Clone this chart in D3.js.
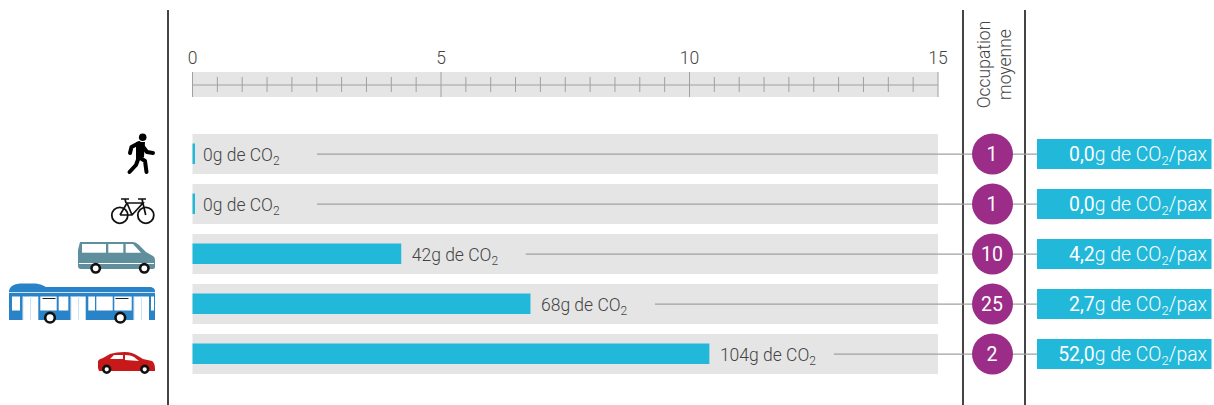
<!DOCTYPE html>
<html>
<head>
<meta charset="utf-8">
<script src="https://cdnjs.cloudflare.com/ajax/libs/d3/7.8.5/d3.min.js"></script>
<style>
  html, body { margin: 0; padding: 0; background: #fff; }
  svg { display: block; font-family: Roboto, sans-serif; font-weight: 300; }
</style>
</head>
<body>
<svg id="chart" width="1214" height="405"></svg>
<script>
const modes = ["marche", "velo", "van", "bus", "voiture"];
const emissions = [0, 0, 42, 68, 104];
const occupancy = [1, 1, 10, 25, 2];
const perPax = ["0,0", "0,0", "4,2", "2,7", "52,0"];
const majorTicks = [0, 50, 100, 150];
const minorTicks = d3.range(0, 151, 5);

const svg = d3.select("#chart");
const grey = "#e5e5e5", blue = "#22b8da", purple = "#9b2c87", lineCol = "#a0a0a0", textCol = "#444";

const x = d3.scaleLinear().domain([0, 150]).range([192.5, 938]);
const y = d3.scaleBand().domain(modes).range([134, 374]).paddingInner(0.2);

// column separators
svg.selectAll(".sep").data([168, 963, 1025]).join("line")
  .attr("class", "sep")
  .attr("x1", d => d).attr("x2", d => d)
  .attr("y1", 10).attr("y2", 405)
  .attr("stroke", "#444").attr("stroke-width", 2);

// ruler at the top
svg.append("rect").attr("x", x(0)).attr("y", 72)
  .attr("width", x(150) - x(0)).attr("height", 25).attr("fill", grey);

svg.append("line").attr("x1", x(0)).attr("x2", x(150)).attr("y1", 85).attr("y2", 85)
  .attr("stroke", lineCol);

svg.selectAll(".minor").data(minorTicks).join("line")
  .attr("class", "minor")
  .attr("x1", d => x(d)).attr("x2", d => x(d))
  .attr("y1", d => majorTicks.includes(d) ? 72 : 77)
  .attr("y2", d => majorTicks.includes(d) ? 97 : 92)
  .attr("stroke", lineCol);

const axis = d3.axisTop(x).tickValues(majorTicks).tickSize(0).tickPadding(8).tickFormat(d => d / 10);
const axisG = svg.append("g").attr("transform", "translate(-0.5,72)").call(axis);
axisG.select(".domain").remove();
axisG.selectAll("text").attr("fill", textCol).style("font-size", "17.5px").style("font-family", "Roboto").style("font-weight", 300);

// rows
const rows = svg.selectAll(".row").data(modes).join("g").attr("class", "row");

rows.append("rect")
  .attr("x", x(0)).attr("y", d => y(d))
  .attr("width", x(150) - x(0)).attr("height", y.bandwidth())
  .attr("fill", grey);

rows.append("rect")
  .attr("x", x(0)).attr("y", d => y(d) + 9.5)
  .attr("width", (d, i) => Math.max(x(emissions[i]) - x(0), 2.5))
  .attr("height", y.bandwidth() - 19.5)
  .attr("fill", blue);

// leader lines go behind the circles, out to the right boxes
rows.append("line")
  .attr("x1", (d, i) => x(emissions[i]) + 124.5)
  .attr("x2", 1037)
  .attr("y1", d => y(d) + 20.2).attr("y2", d => y(d) + 20.2)
  .attr("stroke", lineCol).attr("stroke-width", 1.2);

function co2Text(sel, bold, rest, subSize) {
  // text with the 2 of CO2 set as a subscript
  if (bold) sel.append("tspan").attr("font-weight", 400).text(bold);
  sel.append("tspan").text("g de CO");
  sel.append("tspan").attr("dy", 4).style("font-size", subSize).text("2");
  if (rest) sel.append("tspan").attr("dy", -4).text(rest);
}

rows.append("text")
  .attr("x", (d, i) => x(emissions[i]) + 10.5)
  .attr("y", d => y(d) + 26.5)
  .attr("fill", textCol).style("font-size", "17.5px")
  .each(function (d, i) {
    const t = d3.select(this);
    t.append("tspan").text(emissions[i]);
    co2Text(t, null, null, "12px");
  });

rows.append("circle")
  .attr("cx", 992.5).attr("cy", d => y(d) + 20).attr("r", 20.5)
  .attr("fill", purple);

rows.append("text")
  .attr("x", 992).attr("y", d => y(d) + 27)
  .attr("text-anchor", "middle").attr("fill", "#fff")
  .style("font-size", "19.5px").style("font-weight", 400)
  .text((d, i) => occupancy[i]);

rows.append("rect")
  .attr("x", 1037).attr("y", d => y(d) + 5)
  .attr("width", 174.5).attr("height", 30)
  .attr("fill", blue);

rows.append("text")
  .attr("x", 1207).attr("y", d => y(d) + 27)
  .attr("text-anchor", "end").attr("fill", "#fff")
  .style("font-size", "19.4px")
  .each(function (d, i) { co2Text(d3.select(this), perPax[i], "/pax", "13px"); });

// column title
const occTitle = svg.append("text")
  .attr("transform", "translate(990,64.5) rotate(-90)")
  .attr("fill", textCol).attr("text-anchor", "middle")
  .style("font-size", "17.5px");
occTitle.append("tspan").attr("x", 0).attr("y", 0).text("Occupation");
occTitle.append("tspan").attr("x", 0).attr("y", 21).text("moyenne");

// pictograms
const icons = svg.append("g");
function wheel(cx, cy, r) {
  icons.append("circle").attr("cx", cx).attr("cy", cy).attr("r", r)
    .attr("fill", "#fff").attr("stroke", "#111").attr("stroke-width", 2.6);
}
function win(x0, y0, w, h, fill) {
  icons.append("rect").attr("x", x0).attr("y", y0).attr("width", w).attr("height", h).attr("fill", fill || "#fff");
}

// walker
icons.append("circle").attr("cx", 142.7).attr("cy", 137.3).attr("r", 3.8).attr("fill", "#000");
icons.append("path")
  .attr("d", "M141 144 L139 158 M139 143 L131.5 147 L130 153 M141 144 L147 152 L153 153 M139 157 L136 165 L129.5 172 M139 157 L145 161 L146.5 172")
  .attr("fill", "none").attr("stroke", "#000").attr("stroke-width", 4).attr("stroke-linecap", "round").attr("stroke-linejoin", "round");
icons.append("path").attr("d", "M136 142 L145 142 L144 157 L136 160 Z").attr("fill", "#000");

// bike
icons.append("path")
  .attr("d", "M120 215 L127 203 L143 203 L132 215 L120 215 M127 203 L132 215 M145.7 215 L142 199 M138 199 L146 199 M126 203 L125 199 M121 199 L129 199")
  .attr("fill", "none").attr("stroke", "#111").attr("stroke-width", 1.7);
[119.8, 145.8].forEach(cx => icons.append("circle").attr("cx", cx).attr("cy", 215.3).attr("r", 8)
  .attr("fill", "none").attr("stroke", "#111").attr("stroke-width", 1.8));

// van
icons.append("path")
  .attr("d", "M80 242 L133 242 Q136 242 139 245 L146 252 L153 256 Q155 257 155 260 L155 267 Q155 269 152 269 L81 269 Q78 269 78 266 L78 250 Z")
  .attr("fill", "#5f8f9c");
win(82, 244, 24, 8.7); win(108.3, 244, 15, 8.7);
icons.append("path").attr("d", "M125.7 244 L133 244 L141 252.7 L125.7 252.7 Z").attr("fill", "#fff");
win(79, 263, 75, 1);
wheel(95.7, 268.3, 4.2); wheel(144.3, 268.3, 4.2);

// bus
const busBlue = "#2a83c6", busPale = "#cfe2f3";
icons.append("path")
  .attr("d", "M9 320 L9 291 Q10 284 20 283.5 L36 283.5 Q42 284 46 287 L151 287 Q155 288 155 291 L155 320 Z")
  .attr("fill", busBlue);
win(9, 292, 146, 1, busPale);
[[12, 8, 14], [40.3, 16.4, 14], [58.7, 9.6, 14], [88.3, 6.7, 14], [96.3, 16.4, 14], [114.3, 17.4, 14], [151, 3, 14]]
  .forEach(w => win(w[0], 296.5, w[1], w[2]));
[[22.7, 15.6], [70.7, 15], [133.7, 15.3]].forEach(w => {
  win(w[0], 296.5, w[1], 23.5);
  win(w[0] + 7.3, 296.5, 1, 23.5, busPale);
  win(w[0], 296.5, 0.8, 23.5, busPale);
});
win(42.5, 298, 13, 1, "#222"); win(115.5, 298, 13, 1, "#222");
wheel(50, 317.7, 4.8); wheel(120.3, 317.7, 4.8);

// car
icons.append("path")
  .attr("d", "M98 368 L98 361 Q99 359 103 358 L110 354 Q116 352 125 352 Q132 352 138 356 L143 359 L152 361 Q155 363 155 369 L155 371 L99 371 Z")
  .attr("fill", "#c8191a");
icons.append("path").attr("d", "M110 359 L114 355 L123 355 L123 359 Z").attr("fill", "#fff");
icons.append("path").attr("d", "M125 355 Q131 355 134 357 L139 361 L125 360 Z").attr("fill", "#fff");
wheel(106.7, 369.3, 3.4); wheel(144.7, 369.3, 3.4);
</script>
</body>
</html>
